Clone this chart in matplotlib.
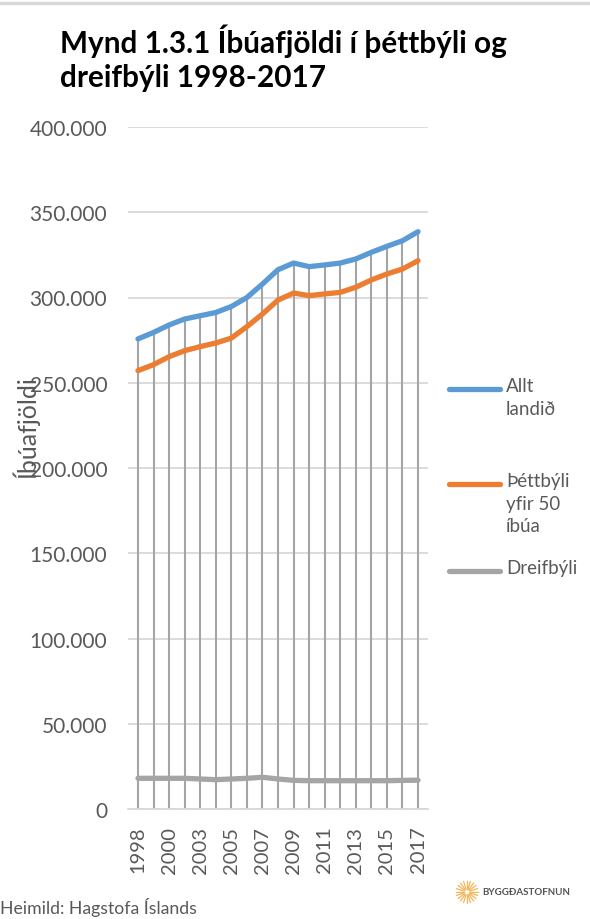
import numpy as np
import matplotlib
matplotlib.use("Agg")
import matplotlib.pyplot as plt
from matplotlib.lines import Line2D
from matplotlib.ticker import FuncFormatter

plt.rcParams['font.family'] = ['Lato', 'DejaVu Sans']

# gögn lesin af myndinni
years = ['1998', '1999', '2000', '2001', '2003', '2004', '2005', '2006', '2007', '2008',
         '2009', '2010', '2011', '2012', '2013', '2014', '2015', '2016', '2017']
allt_landid = [275.7, 279.5, 283.9, 287.4, 289.3, 291.2, 294.7, 300.0, 307.9, 316.3,
               320.2, 318.1, 319.1, 320.2, 322.6, 326.5, 330.0, 333.3, 338.6]
thettbyli = [257.1, 260.6, 265.3, 268.8, 271.2, 273.3, 276.2, 282.9, 290.3, 298.5,
             302.6, 301.1, 302.1, 303.0, 306.0, 310.3, 313.8, 316.7, 321.6]
dreifbyli = [18.0, 18.0, 18.0, 18.0, 17.6, 17.2, 17.6, 18.0, 18.6, 17.6,
             16.8, 16.6, 16.6, 16.6, 16.6, 16.6, 16.6, 16.8, 16.9]

series_names = ['Allt\nlandið', 'Þéttbýli\nyfir 50\níbúa', 'Dreifbýli']
colors = ['#5b9bd5', '#ed7d31', '#a5a5a5']
txt_col = '#595959'

W, H = 590, 920
fig = plt.figure(figsize=(W / 100, H / 100), dpi=100)
ax = fig.add_axes([128 / W, 1 - 810 / H, 300 / W, 682 / H])

x = np.arange(len(years))
allt = np.array(allt_landid) * 1000
thett = np.array(thettbyli) * 1000
dreif = np.array(dreifbyli) * 1000

# lóðréttar fallínur
ax.vlines(x, 0, allt, color='#a5a5a5', lw=1.5, zorder=2)
for y, c in zip([allt, thett, dreif], colors):
    ax.plot(x, y, color=c, lw=3.8, solid_capstyle='round', zorder=3)

ax.set_xlim(-0.64, len(years) - 1 + 0.64)
ax.set_ylim(0, 400000)
ax.set_yticks(np.arange(0, 400001, 50000))
ax.yaxis.set_major_formatter(FuncFormatter(lambda v, p: f'{v:,.0f}'.replace(',', '.')))
ax.grid(axis='y', color='#d9d9d9', lw=1.3, zorder=1)
ax.set_xticks(x[::2])
ax.set_xticklabels(years[::2], rotation=90)
ax.tick_params(axis='y', length=0, labelsize=15, labelcolor=txt_col, pad=15)
ax.tick_params(axis='x', length=0, labelsize=14.5, labelcolor=txt_col, pad=12)
for s in ['top', 'right', 'left']:
    ax.spines[s].set_visible(False)
ax.spines['bottom'].set_color('#d9d9d9')
ax.spines['bottom'].set_linewidth(1.3)

# titill
fig.text(60 / W, 1 - 25 / H, 'Mynd 1.3.1 Íbúafjöldi í þéttbýli og\ndreifbýli 1998-2017',
         fontsize=21.4, fontweight='bold', va='top', ha='left', linespacing=1.25)

fig.text(25 / W, 1 - 427 / H, 'Íbúafjöldi', rotation=90, fontsize=18, color=txt_col,
         ha='center', va='center')

# skýringar
leg_y = [390, 485, 572]
for name, c, yy in zip(series_names, colors, leg_y):
    fig.add_artist(Line2D([449 / W, 500 / W], [1 - yy / H] * 2, color=c, lw=3.8,
                          solid_capstyle='round', transform=fig.transFigure))
    fig.text(506 / W, 1 - (yy - 12) / H, name, fontsize=13.5, color=txt_col,
             va='top', ha='left', linespacing=1.4)

# efsta lína
fig.add_artist(Line2D([0, 1], [1 - 4 / H] * 2, color='#d9d9d9', lw=2.5,
                      transform=fig.transFigure))

fig.text(0, 1 - 908 / H, 'Heimild: Hagstofa Íslands', fontsize=12.7, color=txt_col,
         va='center', ha='left')

# merki
cx, cy = 467 / W, 1 - 893 / H
for a in np.linspace(0, 2 * np.pi, 20, endpoint=False):
    r0, r1 = 3, 11
    fig.add_artist(Line2D([cx + r0 * np.cos(a) / W, cx + r1 * np.cos(a) / W],
                          [cy + r0 * np.sin(a) / H, cy + r1 * np.sin(a) / H],
                          color='#f5b55a', lw=0.9, transform=fig.transFigure))
fig.text(482 / W, cy, 'BYGGÐASTOFNUN', fontsize=7, fontweight='bold', color='#555555',
         va='center', ha='left')

fig.savefig('out.png', dpi=100, facecolor='white')
